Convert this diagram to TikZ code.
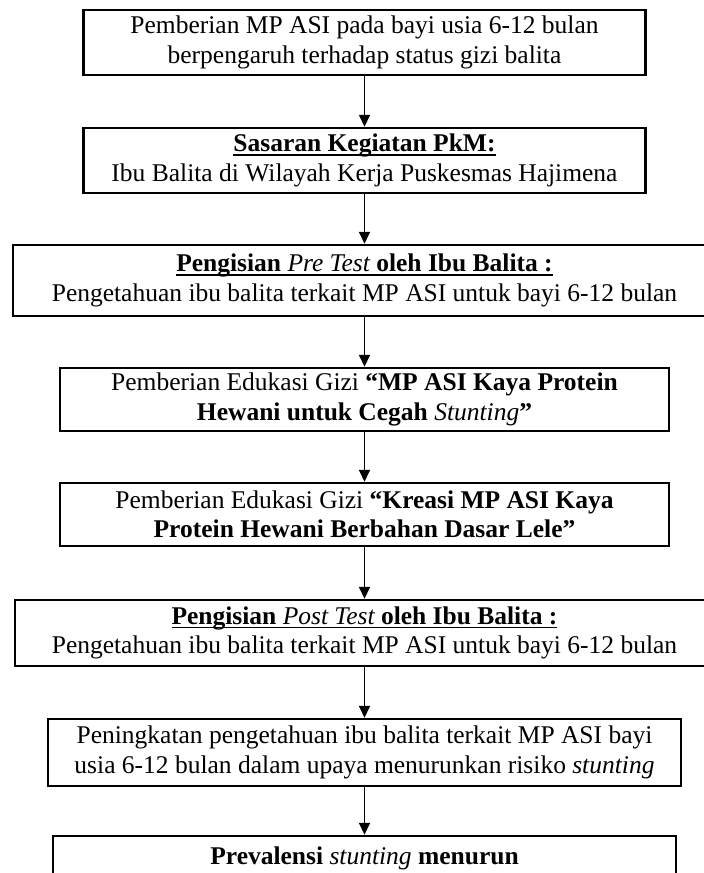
\documentclass[tikz,border=0pt]{standalone}
\usepackage{fontspec}
\setmainfont{Liberation Serif}
\usetikzlibrary{arrows.meta}
\newcommand\myul[1]{\setbox0\hbox{#1}\rlap{\rule[-3.6pt]{\wd0}{1.4pt}}\box0}
\begin{document}
\begin{tikzpicture}[x=1pt,y=-1pt,
  box/.style={draw, line width=2.4pt, inner sep=0pt, align=center,
    font=\fontsize{25.5}{29.3}\selectfont},
  conn/.style={line width=1.5pt, -{Triangle[length=12pt,width=11pt]}}]
\useasboundingbox (0,0) rectangle (704,873);
\clip (0,0) rectangle (704,873);
\node[box, minimum width=562pt, minimum height=65pt] (b1) at (364.5,42.5)
  {Pemberian MP ASI pada bayi usia 6-12 bulan\\berpengaruh terhadap status gizi balita};
\node[box, minimum width=562pt, minimum height=65pt] (b2) at (364.5,160.5)
  {\myul{\textbf{Sasaran Kegiatan PkM:}}\\Ibu Balita di Wilayah Kerja Puskesmas Hajimena};
\node[box, minimum width=703pt, minimum height=71pt] (b3) at (364.5,280.5)
  {\myul{\textbf{Pengisian {\mdseries\itshape Pre Test} oleh Ibu Balita :}}\\Pengetahuan ibu balita terkait MP ASI untuk bayi 6-12 bulan};
\node[box, minimum width=609pt, minimum height=63pt] (b4) at (364.5,399.5)
  {Pemberian Edukasi Gizi \textbf{“MP ASI Kaya Protein}\\\textbf{Hewani untuk Cegah }\textit{Stunting}\textbf{”}};
\node[box, minimum width=609pt, minimum height=63pt] (b5) at (364.5,514.5)
  {Pemberian Edukasi Gizi \textbf{“Kreasi MP ASI Kaya}\\\textbf{Protein Hewani Berbahan Dasar Lele”}};
\node[box, minimum width=699pt, minimum height=66pt] (b6) at (364.5,633)
  {\myul{\textbf{Pengisian {\mdseries\itshape Post Test} oleh Ibu Balita :}}\\Pengetahuan ibu balita terkait MP ASI untuk bayi 6-12 bulan};
\node[box, minimum width=633pt, minimum height=67pt] (b7) at (364.5,752.5)
  {Peningkatan pengetahuan ibu balita terkait MP ASI bayi\\usia 6-12 bulan dalam upaya menurunkan risiko \textit{stunting}};
\node[box, minimum width=623pt, minimum height=44pt] (b8) at (364.5,858)
  {\textbf{Prevalensi }\textit{stunting}\textbf{ menurun}};
\draw[conn] (b1.south) -- (b2.north);
\draw[conn] (b2.south) -- (b3.north);
\draw[conn] (b3.south) -- (b4.north);
\draw[conn] (b4.south) -- (b5.north);
\draw[conn] (b5.south) -- (b6.north);
\draw[conn] (b6.south) -- (b7.north);
\draw[conn] (b7.south) -- (b8.north);
\end{tikzpicture}
\end{document}
